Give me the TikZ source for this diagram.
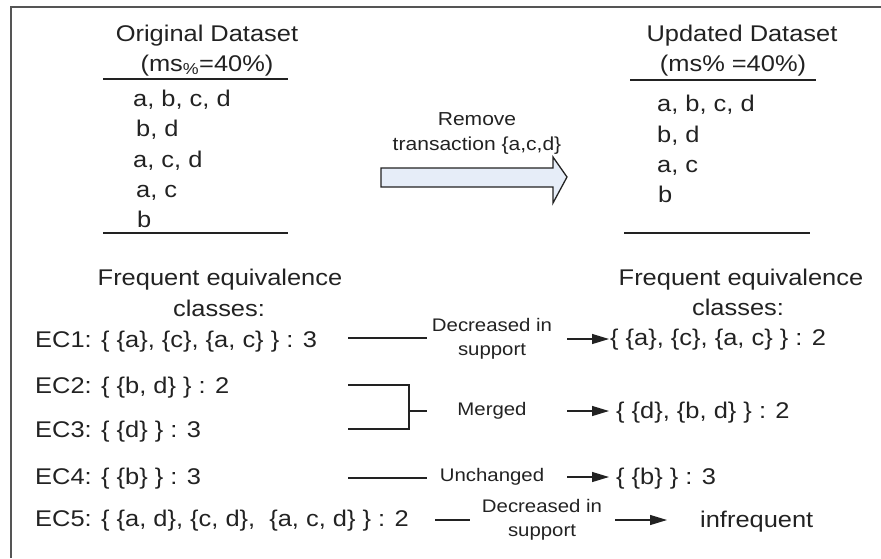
\documentclass[tikz,border=0pt]{standalone}
\usepackage{fontspec}
\setmainfont{Liberation Sans}[FakeStretch=1.12]
\usepackage{tikz}
\usetikzlibrary{arrows.meta, positioning}
\usepackage{xcolor}
\definecolor{inkgray}{RGB}{34,34,34}
\definecolor{framegray}{RGB}{85,85,85}
\definecolor{arrowfill}{RGB}{230,237,248}

\begin{document}
\begin{tikzpicture}[x=1pt, y=-1pt,
every node/.style={align=center, inner sep=0pt, text=inkgray},
txt/.style={font=\fontsize{22.7}{30}\selectfont},
lbl/.style={font=\fontsize{18.2}{24}\selectfont, minimum width=130pt},
conn/.style={draw=inkgray, line width=1.2pt},
>={Triangle[length=17pt, width=10pt]}]

  \useasboundingbox (0,0) rectangle (881,558);
  \draw[framegray, line width=1.3pt] (11,558) -- (11,7) -- (881,7);

  % Original dataset
  \node[txt, anchor=base] (orig) at (207,41) {Original Dataset};
  \node[txt, anchor=base] (origms) at (207,71) {(ms\textsubscript{\%}=40\%)};
  \draw[inkgray, line width=2pt] (103,79) -- (288,79);
  \node[txt, anchor=base west] (o1) at (133,106) {a, b, c, d};
  \node[txt, anchor=base west] (o2) at (136,136) {b, d};
  \node[txt, anchor=base west] (o3) at (133,167) {a, c, d};
  \node[txt, anchor=base west] (o4) at (136,197) {a, c};
  \node[txt, anchor=base west] (o5) at (137,227) {b};
  \draw[inkgray, line width=2pt] (103,233) -- (288,233);

  % Removal step
  \node[font=\fontsize{18.8}{25}\selectfont] (remove) at (477,133) {Remove\\transaction \{a,c,d\}};
  \draw[draw=inkgray, fill=arrowfill, line width=1.3pt]
    (381,168) -- (553,168) -- (553,157) -- (567,177) -- (553,203) -- (553,187) -- (381,187) -- cycle;

  % Updated dataset
  \node[txt, anchor=base] (upd) at (742,41) {Updated Dataset};
  \node[txt, anchor=base] (updms) at (733,71) {(ms\% =40\%)};
  \draw[inkgray, line width=2pt] (630,80) -- (816,80);
  \node[txt, anchor=base west] (u1) at (657,111) {a, b, c, d};
  \node[txt, anchor=base west] (u2) at (657,142) {b, d};
  \node[txt, anchor=base west] (u3) at (657,172) {a, c};
  \node[txt, anchor=base west] (u4) at (658,202) {b};
  \draw[inkgray, line width=2pt] (624,233) -- (810,233);

  % Equivalence classes before
  \node[txt, anchor=base] (freqL) at (220,285) {Frequent equivalence};
  \node[txt, anchor=base] (clsL) at (219,316) {classes:};
  \node[txt, anchor=base west] (ec1) at (35,347) {EC1: \{ \{a\}, \{c\}, \{a, c\} \} : 3};
  \node[txt, anchor=base west] (ec2) at (35,393) {EC2: \{ \{b, d\} \} : 2};
  \node[txt, anchor=base west] (ec3) at (35,437) {EC3: \{ \{d\} \} : 3};
  \node[txt, anchor=base west] (ec4) at (35,484) {EC4: \{ \{b\} \} : 3};
  \node[txt, anchor=base west] (ec5) at (35,526) {EC5: \{ \{a, d\}, \{c, d\}, \ \{a, c, d\} \} : 2};

  % Equivalence classes after
  \node[txt, anchor=base] (freqR) at (741,285) {Frequent equivalence};
  \node[txt, anchor=base] (clsR) at (738,315) {classes:};
  \node[txt, anchor=base west] (new1) at (610,345) {\{ \{a\}, \{c\}, \{a, c\} \} : 2};
  \node[txt, anchor=base west] (new2) at (616,418) {\{ \{d\}, \{b, d\} \} : 2};
  \node[txt, anchor=base west] (new4) at (616,484) {\{ \{b\} \} : 3};
  \node[txt, anchor=base west] (infr) at (700,527) {infrequent};

  % Changes
  \node[lbl] (dec1) at (492,339) {Decreased in\\support};
  \node[lbl] (mrg) at (492,411) {Merged};
  \node[lbl] (unch) at (492,477) {Unchanged};
  \node[lbl, minimum width=144pt] (dec5) at (542,520) {Decreased in\\support};

  \coordinate (s1) at (348,338);
  \coordinate (s2) at (348,385);
  \coordinate (s3) at (348,429);
  \coordinate (j) at (409,411);
  \coordinate (s4) at (348,478);
  \coordinate (s5) at (435,520);

  \draw[conn] (s1) -- (s1 -| dec1.west);
  \draw[conn] (s2) -| (j) |- (s3);
  \draw[conn] (j) -- (j -| mrg.west);
  \draw[conn] (s4) -- (s4 -| unch.west);
  \draw[conn] (s5) -- (s5 -| dec5.west);

  \draw[conn, ->, shorten <=10pt, shorten >=1pt] (dec1.east) -- (dec1.east -| new1.west);
  \draw[conn, ->, shorten <=10pt, shorten >=7pt] (mrg.east) -- (mrg.east -| new2.west);
  \draw[conn, ->, shorten <=10pt, shorten >=7pt] (unch.east) -- (unch.east -| new4.west);
  \draw[conn, ->, shorten <=1pt, shorten >=33pt] (dec5.east) -- (dec5.east -| infr.west);

\end{tikzpicture}
\end{document}
